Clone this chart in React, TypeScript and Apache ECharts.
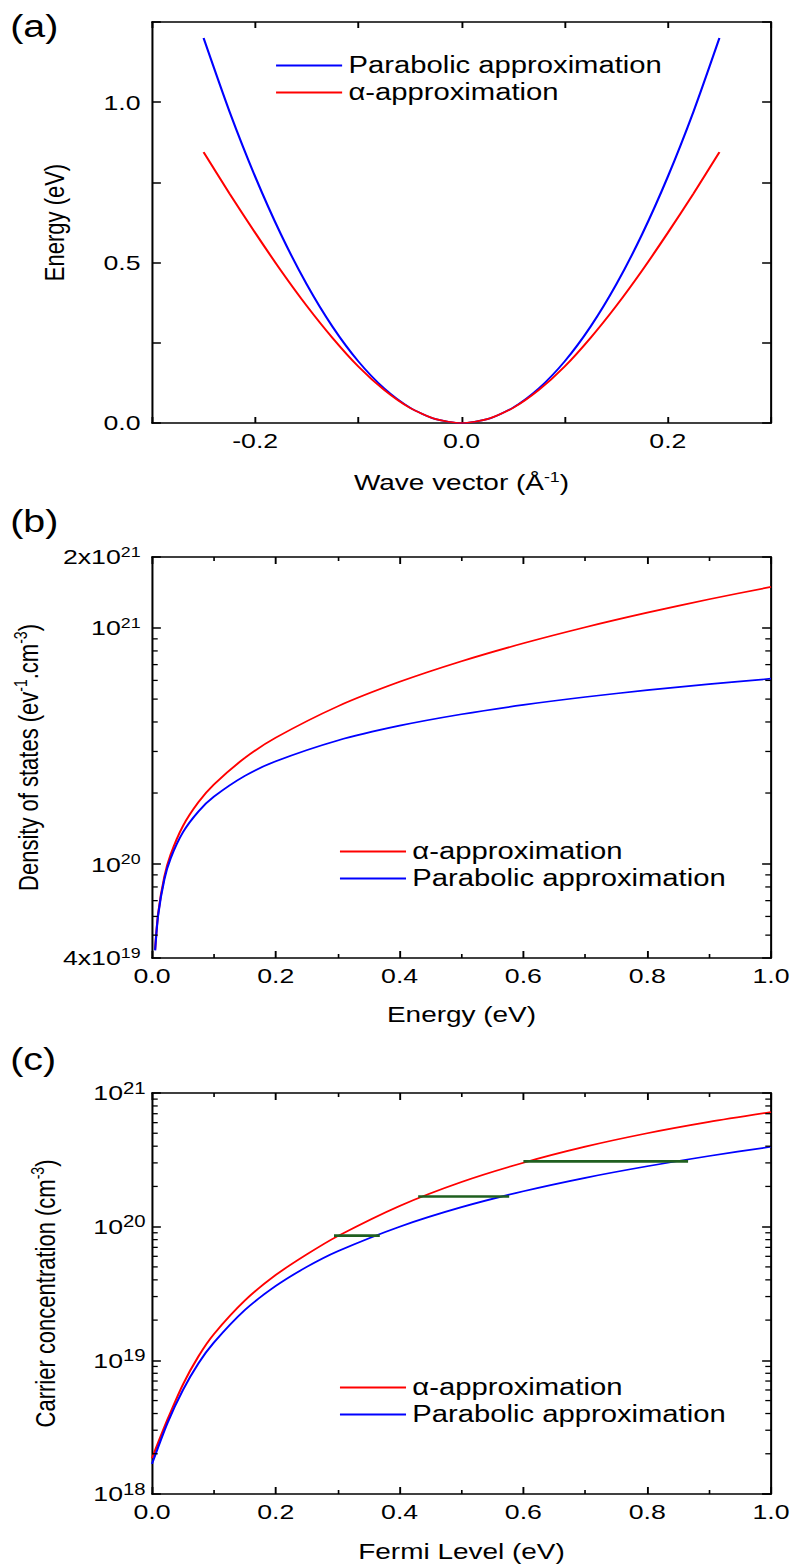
import React, { useEffect, useRef } from "react";
import * as echarts from "echarts";

// Logical canvas (stretched horizontally to 794px like the reference figure)
const W = 625;
const H = 1564;
const SX = 794 / W;
const FONT = "'Liberation Sans', Arial, Helvetica, sans-serif";

// ---------- Panel (a): dispersion ----------
const waveVector = [
  -0.25, -0.225, -0.2, -0.175, -0.15, -0.125, -0.1, -0.075, -0.05, -0.025, 0,
  0.025, 0.05, 0.075, 0.1, 0.125, 0.15, 0.175, 0.2, 0.225, 0.25,
];
const parabolicBand = [
  1.2, 0.972, 0.768, 0.588, 0.432, 0.3, 0.192, 0.108, 0.048, 0.012, 0,
  0.012, 0.048, 0.108, 0.192, 0.3, 0.432, 0.588, 0.768, 0.972, 1.2,
];
const alphaBand = [
  0.844, 0.716, 0.593, 0.475, 0.365, 0.265, 0.176, 0.103, 0.047, 0.012, 0,
  0.012, 0.047, 0.103, 0.176, 0.265, 0.365, 0.475, 0.593, 0.716, 0.844,
];

// ---------- Panel (b): density of states ----------
const dosEnergy = [0.005, 0.01, 0.02, 0.03, 0.05, 0.075, 0.1, 0.15, 0.2, 0.3, 0.4, 0.5, 0.6, 0.7, 0.8, 0.9, 1.0];
const dosAlpha = [
  4.34e19, 6.18e19, 8.84e19, 1.096e20, 1.45e20, 1.829e20, 2.174e20, 2.817e20, 3.433e20,
  4.658e20, 5.917e20, 7.234e20, 8.62e20, 1.008e21, 1.162e21, 1.324e21, 1.494e21,
];
const dosParabolic = [
  4.31e19, 6.1e19, 8.63e19, 1.057e20, 1.364e20, 1.671e20, 1.929e20, 2.363e20, 2.728e20,
  3.341e20, 3.858e20, 4.313e20, 4.725e20, 5.104e20, 5.456e20, 5.787e20, 6.1e20,
];
const dosMinorTicks = [
  5e19, 6e19, 7e19, 8e19, 9e19,
  2e20, 3e20, 4e20, 5e20, 6e20, 7e20, 8e20, 9e20,
];

// ---------- Panel (c): carrier concentration ----------
const fermiLevel = [0, 0.025, 0.05, 0.075, 0.1, 0.15, 0.2, 0.25, 0.3, 0.4, 0.5, 0.6, 0.7, 0.8, 0.9, 1.0];
const nAlpha = [
  1.85e18, 3.6e18, 6.6e18, 1.07e19, 1.57e19, 2.8e19, 4.35e19, 6.2e19, 8.5e19,
  1.43e20, 2.16e20, 3.01e20, 3.97e20, 5.0e20, 6.08e20, 7.2e20,
];
const nParabolic = [
  1.68e18, 3.4e18, 6.0e18, 9.5e18, 1.36e19, 2.38e19, 3.6e19, 5.0e19, 6.55e19,
  1.0e20, 1.4e20, 1.84e20, 2.32e20, 2.83e20, 3.38e20, 3.96e20,
];
const markerLevel = [8.57e19, 1.68e20, 3.08e20];
const markerStart = [0.294, 0.43, 0.6];
const markerEnd = [0.368, 0.577, 0.866];
const nMinorTicks = [
  2e18, 3e18, 4e18, 5e18, 6e18, 7e18, 8e18, 9e18,
  2e19, 3e19, 4e19, 5e19, 6e19, 7e19, 8e19, 9e19,
  2e20, 3e20, 4e20, 5e20, 6e20, 7e20, 8e20, 9e20,
];

const LABEL_PARABOLIC = "Parabolic approximation";
const LABEL_ALPHA = "α-approximation";
const RED = "#ff0000";
const BLUE = "#0000ff";
const GREEN = "#1f5f1f";

const GRID_LEFT = 119.65;
const GRID_RIGHT = 18.1;

const axisLine = { show: true, onZero: false, lineStyle: { color: "#000", width: 1.6 } };
const tickStyle = { color: "#000", width: 1.5 };
const minorStyle = { color: "#000", width: 1.3 };
const labelBase = { color: "#000", fontSize: 21, fontFamily: FONT };

const sciLabel = (v: number) => {
  const e = Math.floor(Math.log10(v) + 1e-6);
  const m = Math.round(v / Math.pow(10, e));
  return m === 1 ? `{b|10}{s|${e}}` : `{b|${m}x10}{s|${e}}`;
};

const nameRich = (sup: number) => ({
  n: { fontSize: 22, fontFamily: FONT, color: "#000" },
  s: { fontSize: sup, fontFamily: FONT, color: "#000", padding: [0, 0, 11, 0] },
});

function fixedX(gridIndex: number, position: "top" | "bottom", show: boolean, extra: any) {
  return {
    type: "value",
    gridIndex,
    position,
    axisLine,
    splitLine: { show: false },
    axisLabel: show ? { ...labelBase, margin: 7 } : { show: false },
    ...extra,
  };
}

function lineSeries(name: string, color: string, xi: number, xs: number[], ys: number[]) {
  return {
    type: "line",
    name,
    xAxisIndex: xi,
    yAxisIndex: xi,
    data: xs.map((x, i) => [x, ys[i]]),
    showSymbol: false,
    symbol: "none",
    smooth: 0.25,
    silent: true,
    itemStyle: { color },
    lineStyle: { color, width: 1.7 },
    z: 3,
  };
}

function minorTickSeries(ai: number, values: number[], xAt: number, dir: number) {
  return {
    type: "custom",
    xAxisIndex: ai,
    yAxisIndex: ai,
    silent: true,
    clip: false,
    data: values.map((v) => [xAt, v]),
    renderItem: (_p: any, api: any) => {
      const p = api.coord([api.value(0), api.value(1)]);
      return {
        type: "line",
        shape: { x1: p[0], y1: p[1], x2: p[0] + dir * 4.5, y2: p[1] },
        style: { stroke: "#000", lineWidth: 1.3 },
      };
    },
    z: 4,
  };
}

function legendAt(left: number, top: number, names: string[]) {
  return {
    left,
    top,
    padding: 0,
    orient: "vertical",
    data: names,
    icon: "rect",
    itemWidth: 52,
    itemHeight: 2,
    itemGap: 4,
    selectedMode: false,
    textStyle: { fontSize: 23, color: "#000", fontFamily: FONT, lineHeight: 23 },
  };
}

export default function App() {
  const ref = useRef<HTMLDivElement>(null);

  useEffect(() => {
    if (!ref.current) return;
    const chart = echarts.init(ref.current, null, { renderer: "svg", width: W, height: H });

    const fmtAx = (v: number) => {
      const r = Math.round(v * 10);
      return r === -2 || r === 0 || r === 2 ? (r / 10).toFixed(1) : "";
    };
    const fmtAy = (v: number) => {
      const r = Math.round(v * 4);
      return r % 2 === 0 && r <= 4 ? (r / 4).toFixed(1) : "";
    };
    const fmtE = (v: number) => v.toFixed(1);

    const xCommonA = { min: -0.3, max: 0.3, interval: 0.1, axisTick: { inside: true, length: 6, lineStyle: tickStyle } };
    const xCommonBC = {
      min: 0,
      max: 1,
      interval: 0.2,
      axisTick: { inside: true, length: 7, lineStyle: tickStyle },
      minorTick: { show: true, splitNumber: 2, length: 4, lineStyle: minorStyle },
    };

    const logLabel = (sup: number, margin: number) => ({
      ...labelBase,
      margin,
      showMinLabel: true,
      showMaxLabel: true,
      formatter: sciLabel,
      rich: {
        b: { fontSize: 21, fontFamily: FONT, color: "#000" },
        s: { fontSize: sup, fontFamily: FONT, color: "#000", padding: [0, 0, 10, 0] },
      },
    });

    const titleStyle = { fontSize: 31, fontWeight: "normal", fontFamily: FONT, color: "#000" };

    const option: any = {
      animation: false,
      backgroundColor: "#ffffff",
      title: [
        { text: "(a)", left: 8, top: 11, padding: 0, textStyle: titleStyle },
        { text: "(b)", left: 8, top: 506, padding: 0, textStyle: titleStyle },
        { text: "(c)", left: 8, top: 1044, padding: 0, textStyle: titleStyle },
      ],
      legend: [
        legendAt(217.3, 54, [LABEL_PARABOLIC, LABEL_ALPHA]),
        legendAt(267.6, 840, [LABEL_ALPHA, LABEL_PARABOLIC]),
        legendAt(267.6, 1376, [LABEL_ALPHA, LABEL_PARABOLIC]),
      ],
      grid: [
        { left: GRID_LEFT, right: GRID_RIGHT, top: 22, height: 401 },
        { left: GRID_LEFT, right: GRID_RIGHT, top: 557, height: 401 },
        { left: GRID_LEFT, right: GRID_RIGHT, top: 1093, height: 401 },
      ],
      xAxis: [
        fixedX(0, "bottom", true, {
          ...xCommonA,
          axisLabel: { ...labelBase, margin: 7, formatter: fmtAx },
          name: "{n|Wave vector (Å}{s|-1}{n|)}",
          nameLocation: "middle",
          nameGap: 47,
          nameTextStyle: { rich: nameRich(14) },
        }),
        fixedX(0, "top", false, { ...xCommonA }),
        fixedX(1, "bottom", true, {
          ...xCommonBC,
          axisLabel: { ...labelBase, margin: 7, formatter: fmtE },
          name: "Energy (eV)",
          nameLocation: "middle",
          nameGap: 45,
          nameTextStyle: { fontSize: 22, fontFamily: FONT, color: "#000" },
        }),
        fixedX(1, "top", false, { ...xCommonBC }),
        fixedX(2, "bottom", true, {
          ...xCommonBC,
          axisLabel: { ...labelBase, margin: 7, formatter: fmtE },
          name: "Fermi Level (eV)",
          nameLocation: "middle",
          nameGap: 46,
          nameTextStyle: { fontSize: 22, fontFamily: FONT, color: "#000" },
        }),
        fixedX(2, "top", false, { ...xCommonBC }),
      ],
      yAxis: [
        {
          type: "value",
          gridIndex: 0,
          position: "left",
          min: 0,
          max: 1.25,
          interval: 0.25,
          axisLine,
          splitLine: { show: false },
          axisTick: { inside: true, length: 7, lineStyle: tickStyle },
          axisLabel: { ...labelBase, margin: 9, formatter: fmtAy },
          name: "Energy (eV)",
          nameLocation: "middle",
          nameGap: 66,
          nameTextStyle: { fontSize: 22, fontFamily: FONT, color: "#000" },
        },
        {
          type: "value",
          gridIndex: 0,
          position: "right",
          min: 0,
          max: 1.25,
          interval: 0.25,
          axisLine,
          splitLine: { show: false },
          axisTick: { inside: true, length: 7, lineStyle: tickStyle },
          axisLabel: { show: false },
        },
        {
          type: "log",
          logBase: 10,
          gridIndex: 1,
          position: "left",
          min: 4e19,
          max: 2e21,
          axisLine,
          splitLine: { show: false },
          minorTick: { show: false },
          axisTick: { inside: true, length: 7, lineStyle: tickStyle },
          axisLabel: logLabel(14, 9),
          name: "{n|Density of states (ev}{s|-1}{n|.cm}{s|-3}{n|)}",
          nameLocation: "middle",
          nameGap: 85,
          nameTextStyle: { rich: nameRich(14) },
        },
        {
          type: "log",
          logBase: 10,
          gridIndex: 1,
          position: "right",
          min: 4e19,
          max: 2e21,
          axisLine,
          splitLine: { show: false },
          minorTick: { show: false },
          axisTick: { inside: true, length: 7, lineStyle: tickStyle },
          axisLabel: { show: false },
        },
        {
          type: "log",
          logBase: 10,
          gridIndex: 2,
          position: "left",
          min: 1e18,
          max: 1e21,
          axisLine,
          splitLine: { show: false },
          minorTick: { show: false },
          axisTick: { inside: true, length: 7, lineStyle: tickStyle },
          axisLabel: logLabel(16, 5),
          name: "{n|Carrier concentration (cm}{s|-3}{n|)}",
          nameLocation: "middle",
          nameGap: 72,
          nameTextStyle: { rich: nameRich(14) },
        },
        {
          type: "log",
          logBase: 10,
          gridIndex: 2,
          position: "right",
          min: 1e18,
          max: 1e21,
          axisLine,
          splitLine: { show: false },
          minorTick: { show: false },
          axisTick: { inside: true, length: 7, lineStyle: tickStyle },
          axisLabel: { show: false },
        },
      ],
      series: [
        lineSeries(LABEL_PARABOLIC, BLUE, 0, waveVector, parabolicBand),
        lineSeries(LABEL_ALPHA, RED, 0, waveVector, alphaBand),
        lineSeries(LABEL_ALPHA, RED, 2, dosEnergy, dosAlpha),
        lineSeries(LABEL_PARABOLIC, BLUE, 2, dosEnergy, dosParabolic),
        lineSeries(LABEL_ALPHA, RED, 4, fermiLevel, nAlpha),
        lineSeries(LABEL_PARABOLIC, BLUE, 4, fermiLevel, nParabolic),
        ...markerLevel.map((lvl, i) => ({
          type: "line",
          name: `level-${i + 1}`,
          xAxisIndex: 4,
          yAxisIndex: 4,
          data: [
            [markerStart[i], lvl],
            [markerEnd[i], lvl],
          ],
          showSymbol: false,
          symbol: "none",
          silent: true,
          lineStyle: { color: GREEN, width: 2.6 },
          itemStyle: { color: GREEN },
          z: 5,
        })),
        minorTickSeries(2, dosMinorTicks, 0, 1),
        minorTickSeries(2, dosMinorTicks, 1, -1),
        minorTickSeries(4, nMinorTicks, 0, 1),
        minorTickSeries(4, nMinorTicks, 1, -1),
      ],
    };

    chart.setOption(option);
    return () => chart.dispose();
  }, []);

  return (
    <div
      ref={ref}
      style={{
        position: "absolute",
        left: 0,
        top: 0,
        width: W,
        height: H,
        transform: `scaleX(${SX})`,
        transformOrigin: "0 0",
        background: "#fff",
      }}
    />
  );
}
